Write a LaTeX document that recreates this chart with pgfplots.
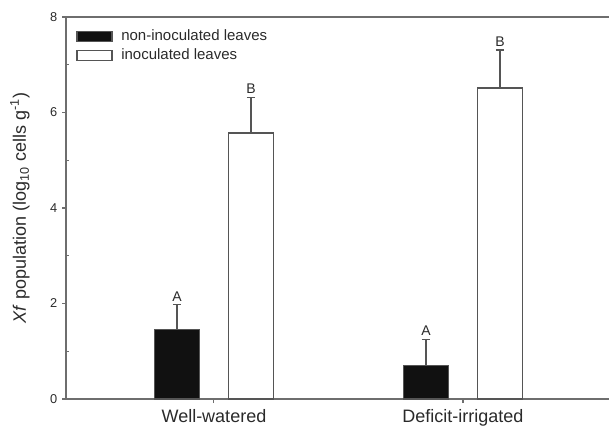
\documentclass[border=0pt]{standalone}
\usepackage{pgfplots}
\pgfplotsset{compat=1.18}
\usepackage{pgfplotstable}
\usepackage{fontspec}
\setmainfont{Liberation Sans}

\definecolor{axisgray}{HTML}{6E6E6E}
\definecolor{bargray}{HTML}{555555}
\definecolor{barblack}{HTML}{111111}
\definecolor{txt}{HTML}{2A2A2A}

% log10 Xf population, mean and upper standard error
\pgfplotstableread{
x y err lab
0 1.45 0.53 A
1 0.70 0.55 A
}\noninoc
\pgfplotstableread{
x y err lab
0 5.57 0.75 B
1 6.51 0.80 B
}\inoc

\begin{document}
\begin{tikzpicture}
\begin{axis}[
  scale only axis,
  width=415.5pt, height=286.5pt,
  ybar,
  bar width=33.75pt,
  clip=false,
  xmin=-0.594, xmax=1.6305,
  ymin=0, ymax=8,
  xtick={0,1},
  xticklabels={Well-watered, Deficit-irrigated},
  ytick={0,2,4,6,8},
  extra y ticks={1,3,5,7},
  extra y tick labels={},
  extra y tick style={tick align=inside, major tick length=2.25pt},
  xtick pos=bottom, ytick pos=left,
  tick align=outside,
  major tick length=3pt,
  axis line style={axisgray, line width=1.1pt},
  every tick/.style={axisgray, line width=0.8pt},
  x tick label style={font=\fontsize{13.5}{16}\selectfont, text=txt, yshift=-1pt},
  y tick label style={font=\fontsize{9.6}{11}\selectfont, text=txt},
  /pgf/number format/assume math mode=true,
  ylabel={\textit{Xf} population (log\textsubscript{10} cells g\textsuperscript{-1})},
  every axis y label/.style={at={([xshift=-34.5pt]axis description cs:0,0.5)}, anchor=center, rotate=90,
    font=\fontsize{13.5}{16}\selectfont, text=txt},
  legend style={at={(axis description cs:0,1)}, anchor=north west,
    xshift=7.5pt, yshift=-8pt, draw=none, fill=none, inner sep=0pt,
    font=\fontsize{11.25}{13}\selectfont, text=txt, row sep=1.5pt,
    nodes={inner sep=1.5pt},
    /tikz/every odd column/.style={column sep=5pt}},
  legend cell align=left,
  error bars/error bar style={bargray, line width=1pt},
  error bars/error mark options={bargray, line width=1pt, mark size=3pt, rotate=90},
]
\addplot[fill=barblack, draw=bargray, line width=1pt, bar shift=-27.75pt,
  legend image code/.code={\draw[fill=barblack, draw=bargray, line width=1pt] (0pt,-3.75pt) rectangle (26.25pt,3.75pt);},
  error bars/.cd, y dir=plus, y explicit]
  table[x=x, y=y, y error=err] {\noninoc};
\addlegendentry{non-inoculated leaves}
\addplot[fill=white, draw=bargray, line width=1pt, bar shift=27.75pt,
  legend image code/.code={\draw[fill=white, draw=bargray, line width=1pt] (0pt,-3.75pt) rectangle (26.25pt,3.75pt);},
  error bars/.cd, y dir=plus, y explicit]
  table[x=x, y=y, y error=err] {\inoc};
\addlegendentry{inoculated leaves}
% significance letters above the error bars
\addplot[draw=none, fill=none, forget plot, bar shift=-27.75pt,
  nodes near coords, point meta=explicit symbolic,
  every node near coord/.append style={font=\fontsize{10.5}{12}\selectfont, text=txt, yshift=-1pt}]
  table[x=x, y expr=\thisrow{y}+\thisrow{err}, meta=lab] {\noninoc};
\addplot[draw=none, fill=none, forget plot, bar shift=27.75pt,
  nodes near coords, point meta=explicit symbolic,
  every node near coord/.append style={font=\fontsize{10.5}{12}\selectfont, text=txt, yshift=-1pt}]
  table[x=x, y expr=\thisrow{y}+\thisrow{err}, meta=lab] {\inoc};
\end{axis}
\pgfresetboundingbox
\path[use as bounding box] (-49.5pt,-24pt) rectangle (407.25pt,299.25pt);
\end{tikzpicture}
\end{document}
